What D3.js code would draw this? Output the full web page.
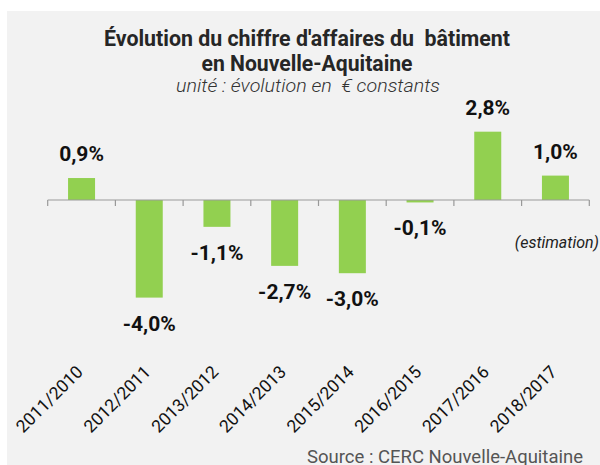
<!DOCTYPE html>
<html>
<head>
<meta charset="utf-8">
<script src="https://cdn.jsdelivr.net/npm/d3@7"></script>
<style>
  body { margin: 0; background: #fff; }
  svg text { font-family: Roboto, 'Noto Sans', sans-serif; white-space: pre; }
</style>
</head>
<body>
<svg id="chart" width="600" height="465"></svg>
<script>
// data
var periods = ['2011/2010', '2012/2011', '2013/2012', '2014/2013', '2015/2014', '2016/2015', '2017/2016', '2018/2017'];
var evolution = [0.9, -4.0, -1.1, -2.7, -3.0, -0.1, 2.8, 1.0];
var valueLabels = ['0,9%', '-4,0%', '-1,1%', '-2,7%', '-3,0%', '-0,1%', '2,8%', '1,0%'];

var svg = d3.select('#chart');

svg.append('rect')
   .attr('x', 7).attr('y', 11)
   .attr('width', 593).attr('height', 454)
   .attr('fill', '#f2f2f2');

var x = d3.scaleBand().domain(periods).range([47.7, 589.3]).paddingInner(0).paddingOuter(0);
var y = d3.scaleLinear().domain([-4.5, 3.5]).range([309.8, 114.6]);

var barW = 27;

// bars
svg.selectAll('.bar')
   .data(evolution)
   .enter()
   .append('rect')
   .attr('class', 'bar')
   .attr('x', (d, i) => x(periods[i]) + x.bandwidth() / 2 - barW / 2)
   .attr('y', d => y(Math.max(0, d)))
   .attr('width', barW)
   .attr('height', d => Math.abs(y(d) - y(0)))
   .attr('fill', '#92d050');

// axis line + ticks at band edges
var axis = svg.append('g').attr('transform', 'translate(0,' + y(0) + ')');
axis.append('line')
    .attr('x1', x.range()[0]).attr('x2', x.range()[1])
    .attr('y1', 0).attr('y2', 0)
    .attr('stroke', '#999').attr('stroke-width', 1.2);

var edges = periods.map(p => x(p)).concat([x.range()[1]]);
axis.selectAll('.tick')
    .data(edges)
    .enter()
    .append('line')
    .attr('x1', d => d).attr('x2', d => d)
    .attr('y1', 0).attr('y2', 6)
    .attr('stroke', '#999').attr('stroke-width', 1.2);

// value labels
svg.selectAll('.vlabel')
   .data(evolution)
   .enter()
   .append('text')
   .attr('class', 'vlabel')
   .attr('x', (d, i) => x(periods[i]) + x.bandwidth() / 2)
   .attr('y', d => d >= 0 ? y(d) - 17 : y(d) + 33)
   .attr('text-anchor', 'middle')
   .attr('font-size', 21)
   .attr('font-weight', 'bold')
   .attr('fill', '#111')
   .text((d, i) => valueLabels[i]);

// rotated period labels
svg.selectAll('.xlabel')
   .data(periods)
   .enter()
   .append('text')
   .attr('class', 'xlabel')
   .attr('transform', d => 'translate(' + (x(d) + x.bandwidth() / 2 + 2.5) + ',373) rotate(-45)')
   .attr('text-anchor', 'end')
   .attr('font-size', 17.5)
   .attr('fill', '#111')
   .text(d => d);

// titles
svg.append('text')
   .attr('x', 307).attr('y', 46)
   .attr('text-anchor', 'middle')
   .attr('font-size', 22).attr('font-weight', 'bold')
   .attr('textLength', 406).attr('lengthAdjust', 'spacingAndGlyphs')
   .attr('fill', '#262626')
   .text("Évolution du chiffre d'affaires du  bâtiment");

svg.append('text')
   .attr('x', 307).attr('y', 71)
   .attr('text-anchor', 'middle')
   .attr('font-size', 22).attr('font-weight', 'bold')
   .attr('textLength', 211).attr('lengthAdjust', 'spacingAndGlyphs')
   .attr('fill', '#262626')
   .text('en Nouvelle-Aquitaine');

svg.append('text')
   .attr('x', 308).attr('y', 92)
   .attr('text-anchor', 'middle')
   .attr('font-size', 19).attr('font-style', 'italic').attr('font-weight', 300)
   .attr('textLength', 264).attr('lengthAdjust', 'spacingAndGlyphs')
   .attr('fill', '#333')
   .text('unité : évolution en  € constants');

svg.append('text')
   .attr('x', 599).attr('y', 248)
   .attr('text-anchor', 'end')
   .attr('font-size', 16).attr('font-style', 'italic')
   .attr('fill', '#222')
   .text('(estimation)');

svg.append('text')
   .attr('x', 583).attr('y', 463)
   .attr('text-anchor', 'end')
   .attr('font-size', 18.5)
   .attr('fill', '#555')
   .text('Source : CERC Nouvelle-Aquitaine');
</script>
</body>
</html>
